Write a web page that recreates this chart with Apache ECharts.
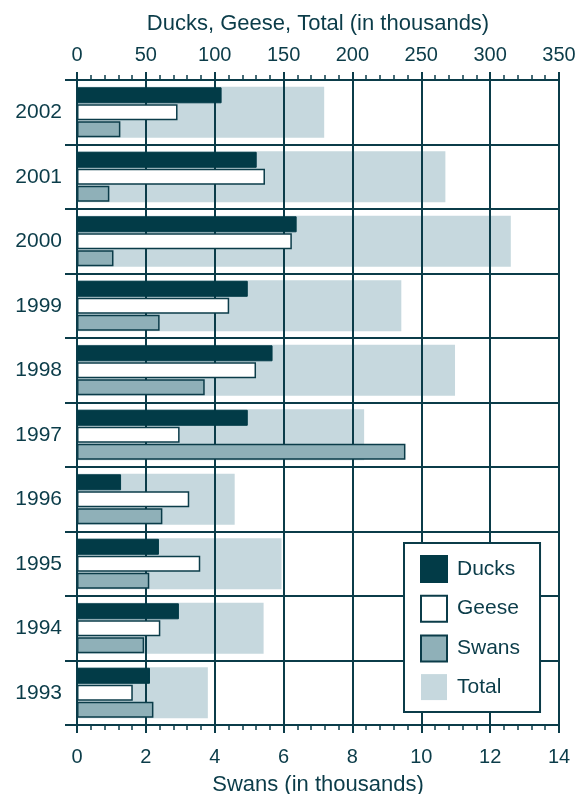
<!DOCTYPE html>
<html>
<head>
<meta charset="utf-8">
<script src="https://cdn.jsdelivr.net/npm/echarts@6/dist/echarts.min.js"></script>
<style>
  html, body {margin: 0; padding: 0; background: #fff;}
  #display {width: 587px; height: 794px;}
</style>
</head>
<body>
<div id="display"></div>
<script>
var years = ['2002', '2001', '2000', '1999', '1998', '1997', '1996', '1995', '1994', '1993'];
var ducks = [105, 130.5, 159.5, 124, 142, 124, 32, 59.5, 74, 53];
var geese = [73, 136.5, 156, 110.5, 130, 74.5, 81.5, 89.5, 60.5, 40.5];
var swans = [1.26, 0.94, 1.06, 2.4, 3.71, 9.54, 2.48, 2.1, 1.95, 2.22];
var total = [179.5, 267.5, 315, 235.5, 274.5, 208.5, 114.5, 148.5, 135.5, 95];

var ink = '#0b3c49';
var font = 'Liberation Sans, Arial, sans-serif';

function valueAxis(pos, max, step, name, gap, margin) {
    return {
        type: 'value',
        position: pos,
        min: 0,
        max: max,
        interval: step,
        name: name,
        nameLocation: 'middle',
        nameGap: gap,
        nameTextStyle: {color: ink, fontSize: 22, fontFamily: font},
        axisLine: {show: true, lineStyle: {color: ink, width: 2}},
        axisTick: {show: true, length: 8, lineStyle: {color: ink, width: 2}},
        minorTick: {show: true, splitNumber: 5, length: 5, lineStyle: {color: ink, width: 1.5}},
        axisLabel: {color: ink, fontSize: 20, fontFamily: font, margin: margin},
        splitLine: {show: pos == 'top', lineStyle: {color: ink, width: 2}}
    };
}

var option = {
    animation: false,
    grid: {left: 77, right: 28, top: 80, bottom: 69, outerBoundsMode: 'none', containLabel: false},
    legend: {
        orient: 'vertical',
        left: 404,
        top: 543,
        itemWidth: 26,
        itemHeight: 26,
        itemGap: 11.7,
        icon: 'rect',
        padding: [12, 20, 12, 16],
        backgroundColor: '#fff',
        borderColor: ink,
        borderWidth: 2,
        borderRadius: 0,
        textStyle: {color: ink, fontSize: 21, lineHeight: 24, fontFamily: font, padding: [0, 0, 0, 5]},
        data: ['Ducks', 'Geese', 'Swans', 'Total']
    },
    xAxis: [
        valueAxis('top', 350, 50, 'Ducks, Geese, Total (in thousands)', 45, 15),
        valueAxis('bottom', 14, 2, 'Swans (in thousands)', 49, 22)
    ],
    yAxis: [{
        type: 'category',
        inverse: true,
        data: years,
        axisLine: {show: true, lineStyle: {color: ink, width: 2}},
        axisTick: {show: true, length: 12, interval: 0, lineStyle: {color: ink, width: 2}},
        axisLabel: {color: ink, fontSize: 21, fontFamily: font, margin: 15},
        splitLine: {show: true, interval: 0, lineStyle: {color: ink, width: 2}}
    }, {
        // same bands, only for the wide Total bars behind
        type: 'category',
        inverse: true,
        data: years,
        show: false
    }],
    series: [{
        name: 'Total',
        type: 'bar',
        xAxisIndex: 0,
        yAxisIndex: 1,
        barWidth: 51,
        z: -1,
        itemStyle: {color: '#c6d8de'},
        data: total
    }, {
        name: 'Ducks',
        type: 'bar',
        xAxisIndex: 0,
        yAxisIndex: 0,
        barWidth: 16,
        barGap: '6%',
        itemStyle: {color: '#023b47', borderColor: '#023b47', borderWidth: 1},
        data: ducks
    }, {
        name: 'Geese',
        type: 'bar',
        xAxisIndex: 0,
        yAxisIndex: 0,
        barWidth: 16,
        barGap: '6%',
        itemStyle: {color: '#fff', borderColor: ink, borderWidth: 1.5},
        data: geese
    }, {
        name: 'Swans',
        type: 'bar',
        xAxisIndex: 1,
        yAxisIndex: 0,
        barWidth: 16,
        barGap: '6%',
        itemStyle: {color: '#8fb0b8', borderColor: ink, borderWidth: 1.5},
        data: swans
    }]
};

var myChart = echarts.init(document.getElementById('display'));
myChart.setOption(option);
</script>
</body>
</html>
